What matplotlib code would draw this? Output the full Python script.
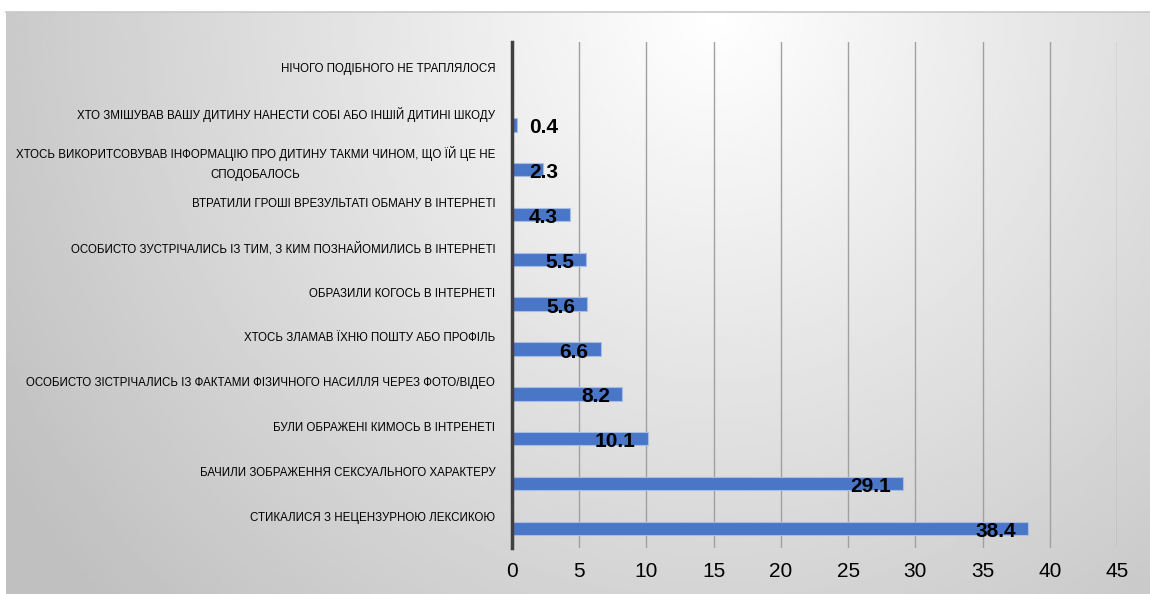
import numpy as np
import matplotlib
matplotlib.use('Agg')
import matplotlib.pyplot as plt

# data (bottom to top, as drawn)
categories = [
    'СТИКАЛИСЯ З НЕЦЕНЗУРНОЮ ЛЕКСИКОЮ',
    'БАЧИЛИ ЗОБРАЖЕННЯ СЕКСУАЛЬНОГО ХАРАКТЕРУ',
    'БУЛИ ОБРАЖЕНІ КИМОСЬ В ІНТРЕНЕТІ',
    'ОСОБИСТО ЗІСТРІЧАЛИСЬ ІЗ ФАКТАМИ ФІЗИЧНОГО НАСИЛЛЯ ЧЕРЕЗ ФОТО/ВІДЕО',
    'ХТОСЬ ЗЛАМАВ ЇХНЮ ПОШТУ АБО ПРОФІЛЬ',
    'ОБРАЗИЛИ КОГОСЬ В ІНТЕРНЕТІ',
    'ОСОБИСТО ЗУСТРІЧАЛИСЬ ІЗ ТИМ, З КИМ ПОЗНАЙОМИЛИСЬ В ІНТЕРНЕТІ',
    'ВТРАТИЛИ ГРОШІ ВРЕЗУЛЬТАТІ ОБМАНУ В ІНТЕРНЕТІ',
    'ХТОСЬ ВИКОРИТСОВУВАВ ІНФОРМАЦІЮ ПРО ДИТИНУ ТАКМИ ЧИНОМ, ЩО ЇЙ ЦЕ НЕ\nСПОДОБАЛОСЬ',
    'ХТО ЗМІШУВАВ ВАШУ ДИТИНУ НАНЕСТИ СОБІ АБО ІНШІЙ ДИТИНІ ШКОДУ',
    'НІЧОГО ПОДІБНОГО НЕ ТРАПЛЯЛОСЯ',
]
values = [38.4, 29.1, 10.1, 8.2, 6.6, 5.6, 5.5, 4.3, 2.3, 0.4, None]
xticks = [0, 5, 10, 15, 20, 25, 30, 35, 40, 45]

W, H = 1150, 594
fig = plt.figure(figsize=(W / 100, H / 100), dpi=100)
fig.patch.set_facecolor('white')

# gradient panel behind the chart
bg = fig.add_axes([6 / W, 0, 1 - 6 / W, (H - 12) / H])
gx, gy = np.meshgrid(np.linspace(0, 1, 300), np.linspace(0, 1, 200))
r = np.sqrt(((gx - 0.62) / 0.62) ** 2 + ((gy - 0.0) / 1.25) ** 2)
shade = 1 - 0.25 * np.clip(r, 0, 1.2) / 1.2
bg.imshow(shade, cmap='gray', vmin=0, vmax=1, aspect='auto',
          extent=[0, 1, 0, 1], origin='upper')
bg.set_xlim(0, 1)
bg.set_ylim(0, 1)
bg.set_xticks([])
bg.set_yticks([])
for s in ['left', 'right', 'bottom']:
    bg.spines[s].set_visible(False)
bg.spines['top'].set_color('#c8c8c8')
bg.spines['top'].set_linewidth(1.2)

ax = fig.add_axes([512 / W, 46 / H, (1117 - 512) / W, (552 - 46) / H])
ax.patch.set_alpha(0)

pos = np.arange(len(categories))
bar_pos = pos - 0.27
vals = [v if v is not None else 0 for v in values]
ax.barh(bar_pos, vals, height=0.3, color='#4a76c8', edgecolor='#a8bde6',
        linewidth=0.8, zorder=3)

for yb, v in zip(bar_pos, values):
    if v is None:
        continue
    ax.annotate(f'{v:.1f}', xy=(max(v, 4.3), yb), xytext=(-12, -3),
                textcoords='offset pixels', ha='right', va='center',
                fontsize=15, fontweight='bold', color='black',
                family=['Liberation Sans', 'DejaVu Sans'], zorder=4)

ax.set_xlim(0, 45)
ax.set_ylim(-0.71, 10.58)
ax.set_xticks(xticks)
ax.set_xticklabels([str(t) for t in xticks], fontsize=15,
                   family=['Liberation Sans', 'DejaVu Sans'])
ax.tick_params(axis='x', length=0, pad=10)
ax.set_yticks(pos)
ax.set_yticklabels(categories, fontsize=8.3, ha='right', multialignment='center',
                   linespacing=1.9, family=['Liberation Sans', 'DejaVu Sans'])
ax.tick_params(axis='y', length=0, pad=12)
ax.grid(axis='x', color='#a0a0a0', linewidth=1.0, zorder=0)
for s in ['top', 'right', 'bottom']:
    ax.spines[s].set_visible(False)
ax.spines['left'].set_color('#404040')
ax.spines['left'].set_linewidth(2.5)
ax.spines['left'].set_zorder(5)

fig.savefig('out.png', dpi=100)
